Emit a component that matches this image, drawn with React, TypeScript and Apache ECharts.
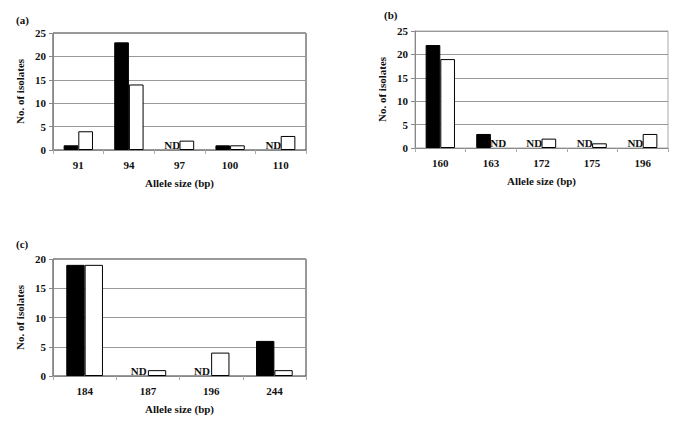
import React, { useEffect, useRef } from "react";
import * as echarts from "echarts";

// Panel (a)
const catsA = ["91", "94", "97", "100", "110"];
const blackA: (number | null)[] = [1, 23, null, 1, null];
const whiteA: (number | null)[] = [4, 14, 2, 1, 3];
// Panel (b)
const catsB = ["160", "163", "172", "175", "196"];
const blackB: (number | null)[] = [22, 3, null, null, null];
const whiteB: (number | null)[] = [19, null, 2, 1, 3];
// Panel (c)
const catsC = ["184", "187", "196", "244"];
const blackC: (number | null)[] = [19, null, null, 6];
const whiteC: (number | null)[] = [19, 1, 4, 1];

const yMaxA = 25;
const yMaxB = 25;
const yMaxC = 20;
const yStep = 5;

const FONT = "'Liberation Serif', 'Times New Roman', serif";

export default function App() {
  const ref = useRef<HTMLDivElement>(null);
  useEffect(() => {
    document.body.style.margin = "0";
    const chart = echarts.init(ref.current!, null, { renderer: "svg" });
    const panels = [
      { cats: catsA, black: blackA, white: whiteA, max: yMaxA, grid: { left: 53, top: 33, width: 253, height: 117 }, border: "#333" },
      { cats: catsB, black: blackB, white: whiteB, max: yMaxB, grid: { left: 415, top: 31, width: 253, height: 117 }, border: "#aaa" },
      { cats: catsC, black: blackC, white: whiteC, max: yMaxC, grid: { left: 53, top: 259, width: 253, height: 117 }, border: "#333" },
    ];
    const ndItem = {
      value: 0,
      itemStyle: { color: "transparent", borderWidth: 0 },
      label: {
        show: true,
        formatter: "ND",
        position: "top",
        distance: 0,
        fontFamily: FONT,
        fontWeight: "bold",
        fontSize: 11,
        color: "#111",
      },
    };
    const mk = (v: number | null) => (v === null ? ndItem : v);
    const grids: any[] = [];
    const xAxes: any[] = [];
    const yAxes: any[] = [];
    const series: any[] = [];
    panels.forEach((p, i) => {
      grids.push({ ...p.grid, show: true, borderColor: p.border, borderWidth: 1, backgroundColor: "#fff" });
      xAxes.push({
        type: "category",
        gridIndex: i,
        data: p.cats,
        name: "Allele size (bp)",
        nameLocation: "middle",
        nameGap: 27,
        nameTextStyle: { fontFamily: FONT, fontWeight: "bold", fontSize: 11, color: "#111" },
        axisLine: { lineStyle: { color: "#888" } },
        axisTick: { show: true, length: 4, lineStyle: { color: "#aaa" } },
        axisLabel: { fontFamily: FONT, fontWeight: "bold", fontSize: 11, color: "#111", margin: 9 },
      });
      yAxes.push({
        type: "value",
        gridIndex: i,
        min: 0,
        max: p.max,
        interval: yStep,
        name: "No. of isolates",
        nameLocation: "middle",
        nameGap: 28,
        nameTextStyle: { fontFamily: FONT, fontWeight: "bold", fontSize: 11, color: "#111" },
        axisLine: { show: true, lineStyle: { color: "#888" } },
        axisTick: { show: true, length: 4, lineStyle: { color: "#888" } },
        axisLabel: { fontFamily: FONT, fontWeight: "bold", fontSize: 11, color: "#111", margin: 7 },
        splitLine: { show: true, lineStyle: { color: "#999", width: 1 } },
      });
      series.push({
        type: "bar",
        xAxisIndex: i,
        yAxisIndex: i,
        data: p.black.map(mk),
        barWidth: "29%",
        barGap: "0%",
        itemStyle: { color: "#000", borderColor: "#000", borderWidth: 1 },
      });
      series.push({
        type: "bar",
        xAxisIndex: i,
        yAxisIndex: i,
        data: p.white.map(mk),
        barWidth: "29%",
        barGap: "0%",
        itemStyle: { color: "#fff", borderColor: "#000", borderWidth: 1 },
      });
    });
    const lbl = (text: string, x: number, y: number) => ({
      type: "text",
      x,
      y,
      style: { text, fontFamily: FONT, fontWeight: "bold", fontSize: 11, fill: "#111", textVerticalAlign: "middle" },
    });
    chart.setOption({
      animation: false,
      backgroundColor: "#fff",
      grid: grids,
      xAxis: xAxes,
      yAxis: yAxes,
      series,
      graphic: [lbl("(a)", 16, 20), lbl("(b)", 384, 15), lbl("(c)", 16, 244)],
    });
    return () => chart.dispose();
  }, []);
  return <div ref={ref} style={{ width: 685, height: 429 }} />;
}
